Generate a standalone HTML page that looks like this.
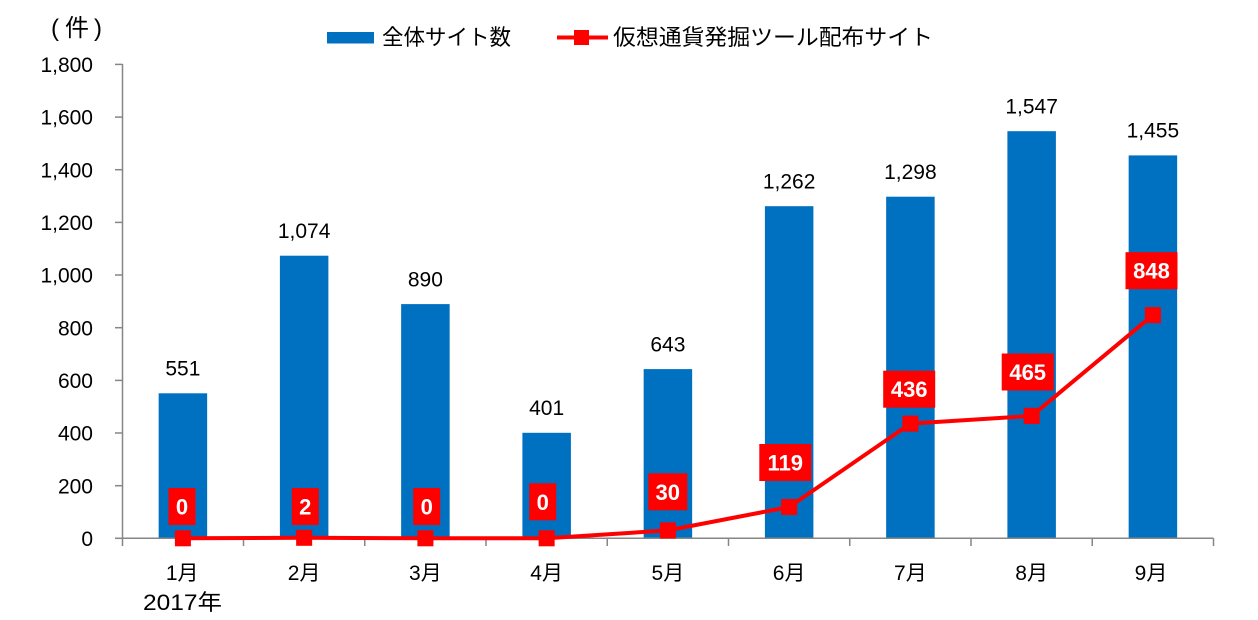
<!DOCTYPE html>
<html>
<head>
<meta charset="utf-8">
<style>
  html, body { margin:0; padding:0; background:#fff; }
  body { width:1258px; height:620px; overflow:hidden; }
  svg { display:block; }
  .ax { font-family: "Liberation Sans", "Noto Sans CJK JP", sans-serif; fill:#000; }
  .jp { font-family: "Liberation Sans", "Noto Sans CJK JP", sans-serif; fill:#000; }
  .lbl { font-family: "Liberation Sans", sans-serif; font-weight:bold; fill:#fff; font-size:22px; }
</style>
</head>
<body>
<svg width="1258" height="620" viewBox="0 0 1258 620" xmlns="http://www.w3.org/2000/svg">
  <!-- unit -->
  <g class="jp" font-size="24">
    <text x="51" y="36">(</text>
    <text x="65" y="36">件</text>
    <text x="94" y="36">)</text>
  </g>

  <!-- legend -->
  <rect x="327" y="32" width="47" height="11.5" fill="#0070C0"/>
  <text class="jp" x="382" y="45" font-size="22" textLength="129" lengthAdjust="spacingAndGlyphs">全体サイト数</text>
  <line x1="557" y1="37.5" x2="608" y2="37.5" stroke="#FF0000" stroke-width="4"/>
  <rect x="574" y="30" width="15" height="15" fill="#FF0000"/>
  <text class="jp" x="613" y="45" font-size="22" textLength="320" lengthAdjust="spacingAndGlyphs">仮想通貨発掘ツール配布サイト</text>

  <!-- y axis labels -->
  <g class="ax" font-size="21" text-anchor="end">
    <text x="93" y="546">0</text>
    <text x="93" y="493.3">200</text>
    <text x="93" y="440.7">400</text>
    <text x="93" y="388">600</text>
    <text x="93" y="335.3">800</text>
    <text x="93" y="282.7">1,000</text>
    <text x="93" y="230">1,200</text>
    <text x="93" y="177.3">1,400</text>
    <text x="93" y="124.7">1,600</text>
    <text x="93" y="72">1,800</text>
  </g>

  <!-- bars -->
  <g fill="#0070C0">
    <rect x="158.65" y="393.3" width="48.5" height="145"/>
    <rect x="279.9" y="255.7" width="48.5" height="282.6"/>
    <rect x="401.15" y="304.1" width="48.5" height="234.2"/>
    <rect x="522.4" y="432.8" width="48.5" height="105.5"/>
    <rect x="643.65" y="369.1" width="48.5" height="169.2"/>
    <rect x="764.9" y="206.2" width="48.5" height="332.1"/>
    <rect x="886.15" y="196.7" width="48.5" height="341.6"/>
    <rect x="1007.4" y="131.2" width="48.5" height="407.1"/>
    <rect x="1128.65" y="155.4" width="48.5" height="382.9"/>
  </g>

  <!-- bar value labels -->
  <g class="ax" font-size="21" text-anchor="middle">
    <text x="182.9" y="375.6">551</text>
    <text x="304.15" y="238">1,074</text>
    <text x="425.4" y="286.4">890</text>
    <text x="546.65" y="415">401</text>
    <text x="667.9" y="351.4">643</text>
    <text x="789.15" y="188.5">1,262</text>
    <text x="910.4" y="179">1,298</text>
    <text x="1031.65" y="113.5">1,547</text>
    <text x="1152.9" y="137.7">1,455</text>
  </g>

  <!-- axes -->
  <g stroke="#868686" stroke-width="1.5" fill="none">
    <line x1="122.5" y1="64" x2="122.5" y2="546"/>
    <line x1="122" y1="538.3" x2="1213.5" y2="538.3"/>
    <line x1="115" y1="538.3" x2="122.5" y2="538.3"/>
    <line x1="115" y1="485.7" x2="122.5" y2="485.7"/>
    <line x1="115" y1="433" x2="122.5" y2="433"/>
    <line x1="115" y1="380.4" x2="122.5" y2="380.4"/>
    <line x1="115" y1="327.7" x2="122.5" y2="327.7"/>
    <line x1="115" y1="275" x2="122.5" y2="275"/>
    <line x1="115" y1="222.4" x2="122.5" y2="222.4"/>
    <line x1="115" y1="169.7" x2="122.5" y2="169.7"/>
    <line x1="115" y1="117.1" x2="122.5" y2="117.1"/>
    <line x1="115" y1="64.4" x2="122.5" y2="64.4"/>
    <line x1="243.5" y1="538.3" x2="243.5" y2="546"/>
    <line x1="364.75" y1="538.3" x2="364.75" y2="546"/>
    <line x1="486" y1="538.3" x2="486" y2="546"/>
    <line x1="607.25" y1="538.3" x2="607.25" y2="546"/>
    <line x1="728.5" y1="538.3" x2="728.5" y2="546"/>
    <line x1="849.75" y1="538.3" x2="849.75" y2="546"/>
    <line x1="971" y1="538.3" x2="971" y2="546"/>
    <line x1="1092.25" y1="538.3" x2="1092.25" y2="546"/>
    <line x1="1213.5" y1="538.3" x2="1213.5" y2="546"/>
  </g>

  <!-- line series -->
  <polyline fill="none" stroke="#FF0000" stroke-width="4" stroke-linejoin="round"
    points="182.9,538.3 304.15,537.8 425.4,538.3 546.65,538.3 667.9,530.4 789.15,507 910.4,423.6 1031.65,415.9 1152.9,315.1"/>
  <g fill="#FF0000">
    <rect x="174.9" y="530.3" width="16" height="16"/>
    <rect x="296.15" y="529.8" width="16" height="16"/>
    <rect x="417.4" y="530.3" width="16" height="16"/>
    <rect x="538.65" y="530.3" width="16" height="16"/>
    <rect x="659.9" y="522.4" width="16" height="16"/>
    <rect x="781.15" y="499" width="16" height="16"/>
    <rect x="902.4" y="415.6" width="16" height="16"/>
    <rect x="1023.65" y="407.9" width="16" height="16"/>
    <rect x="1144.9" y="307.1" width="16" height="16"/>
  </g>

  <!-- line labels -->
  <g fill="#FF0000">
    <rect x="168.5" y="488" width="27" height="37"/>
    <rect x="291.8" y="488" width="27" height="37"/>
    <rect x="413.2" y="488" width="27" height="37"/>
    <rect x="529.2" y="483.3" width="27" height="37"/>
    <rect x="648.3" y="473.3" width="39" height="37"/>
    <rect x="759.3" y="444" width="52" height="37"/>
    <rect x="883.2" y="370.7" width="52" height="37"/>
    <rect x="1001.7" y="353.5" width="52" height="37"/>
    <rect x="1125.5" y="252.2" width="52" height="37"/>
  </g>
  <g class="lbl" text-anchor="middle">
    <text x="182" y="514.5">0</text>
    <text x="305.3" y="514.5">2</text>
    <text x="426.7" y="514.5">0</text>
    <text x="542.7" y="509.8">0</text>
    <text x="667.8" y="499.8">30</text>
    <text x="785.3" y="470.5">119</text>
    <text x="909.2" y="397.2">436</text>
    <text x="1027.7" y="380">465</text>
    <text x="1151.5" y="278.7">848</text>
  </g>

  <!-- category labels -->
  <g class="jp" font-size="21" text-anchor="middle">
    <text x="182.2" y="580">1月</text>
    <text x="304.15" y="580">2月</text>
    <text x="425.4" y="580">3月</text>
    <text x="546.65" y="580">4月</text>
    <text x="667.9" y="580">5月</text>
    <text x="789.15" y="580">6月</text>
    <text x="910.4" y="580">7月</text>
    <text x="1031.65" y="580">8月</text>
    <text x="1151" y="580">9月</text>
  </g>
  <text class="jp" x="143" y="610" font-size="22" textLength="79" lengthAdjust="spacingAndGlyphs">2017年</text>
</svg>
</body>
</html>
